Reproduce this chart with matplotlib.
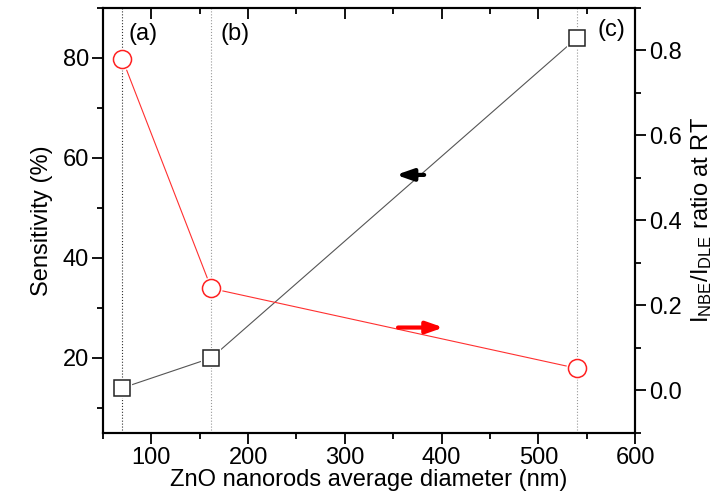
import numpy as np
import matplotlib
matplotlib.use("Agg")
import matplotlib.pyplot as plt

plt.rcParams['font.family'] = ['Liberation Sans', 'DejaVu Sans']
plt.rcParams['mathtext.fontset'] = 'custom'
plt.rcParams['mathtext.rm'] = 'Liberation Sans'
plt.rcParams['mathtext.it'] = 'Liberation Sans'

# data
diameter = [70, 162, 540]
sensitivity = [14, 20, 84]
ratio = [0.78, 0.24, 0.052]
panel_labels = ['(a)', '(b)', '(c)']

fs = 17

fig = plt.figure(figsize=(7.2, 4.92), dpi=100)
ax = fig.add_axes([0.143, 0.120, 0.739, 0.864])
ax2 = ax.twinx()

# guide lines for the three samples
ax.axvline(diameter[0], color='#333333', ls=':', lw=0.8, zorder=0)
for d in diameter[1:]:
    ax.axvline(d, color='#999999', ls=':', lw=0.8, zorder=0)

ax.plot(diameter, sensitivity, color='#555555', lw=0.8, zorder=2)
ax.plot(diameter, sensitivity, ls='none', marker='s', ms=11, mfc='white',
        mec='white', mew=3, zorder=3)
ax.plot(diameter, sensitivity, ls='none', marker='s', ms=11, mfc='none',
        mec='#222222', mew=1.1, zorder=4)

ax2.plot(diameter, ratio, color='#ff3030', lw=0.8, zorder=2)
ax2.plot(diameter, ratio, ls='none', marker='o', ms=13, mfc='white',
         mec='white', mew=3, zorder=3)
ax2.plot(diameter, ratio, ls='none', marker='o', ms=13, mfc='none',
         mec='#ff2020', mew=1.1, zorder=4)

# arrows pointing to the matching axis
ax.annotate('', xy=(353, 56.6), xytext=(382, 56.6),
            arrowprops=dict(arrowstyle='-|>,head_length=1.0,head_width=0.35',
                            color='black', lw=3, shrinkA=0, shrinkB=0))
ax2.annotate('', xy=(402, 0.148), xytext=(355, 0.148),
             arrowprops=dict(arrowstyle='-|>,head_length=1.0,head_width=0.35',
                             color='red', lw=3, shrinkA=0, shrinkB=0))

ax.set_xlim(50, 600)
ax.set_ylim(5, 90)
ax2.set_ylim(-0.1, 0.9)

ax.set_xticks([100, 200, 300, 400, 500, 600])
ax.set_xticks(np.arange(50, 601, 50), minor=True)
ax.set_yticks([20, 40, 60, 80])
ax.set_yticks([10, 30, 50, 70, 90], minor=True)
ax2.set_yticks([0.0, 0.2, 0.4, 0.6, 0.8])
ax2.set_yticks([-0.1, 0.1, 0.3, 0.5, 0.7, 0.9], minor=True)
ax2.set_yticklabels(['0.0', '0.2', '0.4', '0.6', '0.8'])

ax.tick_params(axis='both', which='major', labelsize=fs, length=8, width=1.3,
               direction='out', pad=2)
ax.tick_params(axis='both', which='minor', length=4, width=1.3, direction='out')
ax.tick_params(axis='x', which='both', top=True, labeltop=False)
ax2.tick_params(axis='y', which='major', labelsize=fs, length=8, width=1.3,
                direction='out', pad=2)
ax2.tick_params(axis='y', which='minor', length=4, width=1.3, direction='out')

# top ticks point inward
for t in ax.xaxis.get_major_ticks() + ax.xaxis.get_minor_ticks():
    t.tick2line.set_marker(3)
for t in ax.xaxis.get_major_ticks():
    t.tick2line.set_markersize(8)
for t in ax.xaxis.get_minor_ticks():
    t.tick2line.set_markersize(4)

for sp in ax.spines.values():
    sp.set_linewidth(1.5)
for sp in ax2.spines.values():
    sp.set_linewidth(1.5)

ax.set_xlabel('ZnO nanorods average diameter (nm)', fontsize=fs, labelpad=0)
ax.set_ylabel('Sensitivity (%)', fontsize=fs, labelpad=7)
ax2.set_ylabel(r'I$_{\mathrm{NBE}}$/I$_{\mathrm{DLE}}$ ratio at RT', fontsize=fs,
               labelpad=5)

label_x = [91, 187, 576]
label_y = [84.8, 84.8, 85.6]
for lx, ly, lab in zip(label_x, label_y, panel_labels):
    ax.text(lx, ly, lab, fontsize=fs, ha='center', va='center')

fig.savefig('out.png', dpi=100)
